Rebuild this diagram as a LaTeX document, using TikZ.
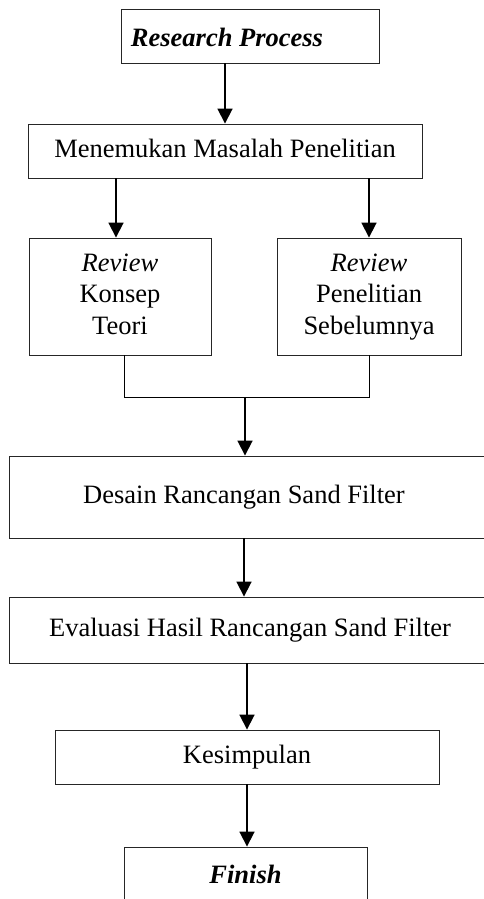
\documentclass[tikz,border=0pt]{standalone}
\usepackage{fontspec}
\setmainfont{Liberation Serif}
\usetikzlibrary{arrows.meta}
\begin{document}
\begin{tikzpicture}[x=1pt,y=-1pt,
  box/.style={draw=black!85,line width=0.9pt,rectangle,inner sep=0pt,
    font=\fontsize{26.5}{31.5}\selectfont,align=center,
    text height=18.5pt,text depth=5.8pt},
  mbox/.style={draw=black!85,line width=0.9pt,rectangle,inner sep=0pt,
    font=\fontsize{26.5}{31.5}\selectfont,align=center},
  lbl/.style={inner sep=0pt,font=\fontsize{26.5}{31.5}\selectfont,anchor=base},
  arr/.style={line width=1.8pt,-{Triangle[width=15pt,length=15pt]}},
  thin/.style={line width=0.9pt}]
\useasboundingbox (0,0) rectangle (484,899);
% boxes
\node[box,minimum width=258,minimum height=54] (rp) at (250,36) {};
\node[lbl] (rptext) at (227,47) {\textbf{\textit{Research Process}}};
\node[box,minimum width=394,minimum height=54] (mm) at (225,151) {Menemukan Masalah Penelitian};
\node[mbox,minimum width=182,minimum height=117] (rk) at (120,296.5) {\strut\textit{Review}\\Konsep\\Teori\strut};
\node[mbox,minimum width=184,minimum height=117] (rs) at (369,296.5) {\strut\textit{Review}\\Penelitian\\Sebelumnya\strut};
\node[box,minimum width=478,minimum height=82] (ds) at (248,497) {\hspace*{-8pt}Desain Rancangan Sand Filter};
\node[box,minimum width=478,minimum height=66] (ev) at (248,630) {Evaluasi Hasil Rancangan Sand Filter\hspace*{-4pt}};
\node[box,minimum width=384,minimum height=54] (ks) at (247,757) {Kesimpulan};
\node[box,minimum width=243,minimum height=60] (fn) at (245.5,877) {\textbf{\textit{Finish}}};
\coordinate (j) at (245,397);
% connectors
\draw[arr] (mm.north |- rp.south) -- (mm.north);
\draw[arr] ([xshift=-4pt]rk.north |- mm.south) -- ([xshift=-4pt]rk.north);
\draw[arr] (rs.north |- mm.south) -- (rs.north);
\draw[thin] ([xshift=4pt]rk.south) |- (rs.south |- j) -- (rs.south);
\draw[arr] (j) -- (j |- ds.north);
\draw[arr] ([xshift=-4pt]ds.south) -- ([xshift=-4pt]ev.north);
\draw[arr] (ev.south -| ks.north) -- (ks.north);
\draw[arr] (ks.south) -- (ks.south |- fn.north);
\end{tikzpicture}
\end{document}
